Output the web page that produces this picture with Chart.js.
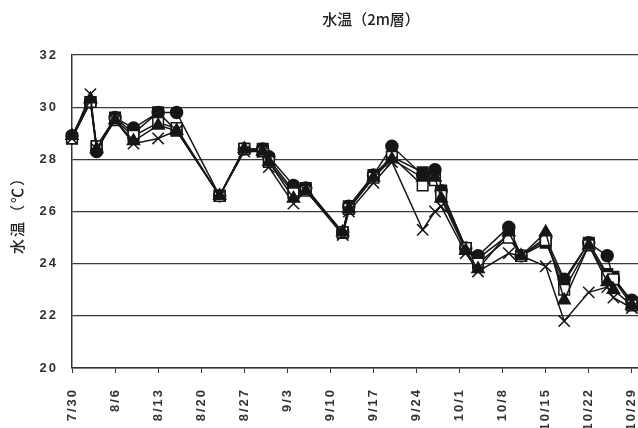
<!DOCTYPE html>
<html>
<head>
<meta charset="utf-8">
<script src="https://cdn.jsdelivr.net/npm/chart.js@4"></script>
<style>
  html, body { margin: 0; padding: 0; background: #fff; }
  #wrap { width: 638px; height: 428px; }
</style>
</head>
<body>
<div id="wrap"><canvas id="chart"></canvas></div>
<script>
// Sampling dates (month/day)
const dates = ["7/30", "8/2", "8/3", "8/6", "8/9", "8/13", "8/16", "8/23", "8/27", "8/30",
  "8/31", "9/4", "9/6", "9/12", "9/13", "9/17", "9/20", "9/25", "9/27", "9/28",
  "10/2", "10/4", "10/9", "10/11", "10/15", "10/18", "10/22", "10/25", "10/26", "10/29"];

// Water temperature at 2m for each station
const circleTemps   = [28.9, 30.2, 28.3, 29.6, 29.2, 29.8, 29.8, 26.6, 28.4, 28.4, 28.1, 27.0, 26.9, 25.2, 26.2, 27.4, 28.5, 27.4, 27.6, 26.8, 24.6, 24.3, 25.4, 24.3, 25.0, 23.4, 24.8, 24.3, 23.4, 22.6];
const squareTemps   = [28.8, 30.2, 28.5, 29.6, 29.0, 29.8, 29.1, 26.6, 28.4, 28.4, 28.0, 26.8, 26.9, 25.2, 26.2, 27.4, 28.1, 27.5, 27.3, 26.8, 24.6, 24.2, 25.1, 24.3, 24.8, 23.3, 24.8, 23.6, 23.5, 22.5];
const openTemps     = [28.8, 30.2, 28.5, 29.5, 28.9, 29.4, 29.2, 26.6, 28.4, 28.3, 27.9, 26.7, 26.8, 25.2, 26.1, 27.3, 28.1, 27.0, 27.2, 26.6, 24.6, 24.0, 25.0, 24.3, 24.9, 23.0, 24.7, 23.5, 23.4, 22.4];
const triangleTemps = [28.9, 30.3, 28.4, 29.5, 28.7, 29.3, 29.1, 26.6, 28.4, 28.3, 27.9, 26.5, 26.8, 25.2, 26.1, 27.3, 28.0, 27.3, 27.3, 26.5, 24.5, 23.8, 25.2, 24.3, 25.2, 22.6, 24.7, 23.3, 23.0, 22.4];
const crossTemps    = [28.8, 30.5, 28.4, 29.5, 28.6, 28.8, 29.1, 26.6, 28.3, 28.3, 27.7, 26.3, 26.8, 25.1, 26.0, 27.1, 27.9, 25.3, 26.0, 26.2, 24.4, 23.7, 24.4, 24.3, 23.9, 21.8, 22.9, 23.1, 22.7, 22.3];

// Axis settings
const yMin = 20, yMax = 32, yStep = 2;
const dayStep = 7;      // one tick per week
const dayMax = 92;

// days counted from 7/30
const start = new Date(2000, 6, 30);
function toDay(s) {
  const [m, d] = s.split("/").map(Number);
  return Math.round((new Date(2000, m - 1, d) - start) / 86400000);
}
function toLabel(v) {
  const dt = new Date(2000, 6, 30 + v);
  return (dt.getMonth() + 1) + "/" + dt.getDate();
}
const days = dates.map(toDay);
const pts = arr => arr.map((v, i) => ({ x: days[i], y: v }));

const ink = "#161616";
function series(label, data, style, radius, fill) {
  return {
    label: label,
    data: pts(data),
    borderColor: ink,
    borderWidth: 1.5,
    pointStyle: style,
    pointRadius: radius,
    pointBorderWidth: 1.5,
    pointBorderColor: ink,
    pointBackgroundColor: fill,
    tension: 0,
    clip: false
  };
}

// wide letter spacing for the axis numbers
const spacing = {
  id: "spacing",
  beforeUpdate(chart) { chart.ctx.letterSpacing = "2px"; },
  beforeDraw(chart) { chart.ctx.letterSpacing = "2px"; }
};

// chart title drawn above the plot
const titlePlugin = {
  id: "topTitle",
  afterDraw(chart) {
    const c = chart.ctx;
    c.save();
    c.letterSpacing = "0px";
    c.font = "500 15px 'Noto Sans CJK JP'";
    c.fillStyle = "#222";
    c.textAlign = "center";
    c.textBaseline = "middle";
    c.fillText("水温（2m層）", 371, 19);
    c.restore();
  }
};

new Chart(document.getElementById("chart"), {
  type: "line",
  data: {
    datasets: [
      series("×", crossTemps, "crossRot", 8, ink),
      series("△", triangleTemps, "triangle", 7, ink),
      series("□", openTemps, "rect", 7.5, "#fff"),
      series("■", squareTemps, "rect", 7.5, ink),
      series("●", circleTemps, "circle", 6, ink)
    ]
  },
  plugins: [spacing, titlePlugin],
  options: {
    responsive: true,
    maintainAspectRatio: false,
    animation: false,
    layout: { autoPadding: false, padding: { top: 55, right: 0, bottom: 0, left: 0 } },
    plugins: {
      legend: { display: false },
      title: { display: false },
      tooltip: { enabled: false }
    },
    scales: {
      x: {
        type: "linear",
        min: 0,
        max: dayMax,
        afterFit(scale) {
          scale.height = 60;
          scale.paddingLeft = 0;
          scale.paddingRight = 0;
        },
        border: { display: true, color: "#333", width: 1.5 },
        grid: { display: true, drawOnChartArea: false, drawTicks: true, tickLength: 5, color: "#333" },
        ticks: {
          stepSize: dayStep,
          includeBounds: false,
          autoSkip: false,
          minRotation: 90,
          maxRotation: 90,
          padding: 15,
          color: "#333",
          font: { family: "'Liberation Sans'", size: 13, weight: "bold" },
          callback: v => toLabel(v)
        }
      },
      y: {
        min: yMin,
        max: yMax,
        afterFit(scale) {
          scale.width = 72;
        },
        border: { display: true, color: "#333", width: 1.5 },
        grid: { color: "#3a3a3a", lineWidth: 1.2, drawTicks: false },
        ticks: {
          stepSize: yStep,
          padding: 14,
          color: "#333",
          font: { family: "'Liberation Sans'", size: 13, weight: "bold" }
        },
        title: {
          display: true,
          text: "水温（℃）",
          color: "#222",
          padding: { top: 8, bottom: 0 },
          font: { family: "'Noto Sans CJK JP'", size: 15, weight: "500" }
        }
      }
    }
  }
});
</script>
</body>
</html>
